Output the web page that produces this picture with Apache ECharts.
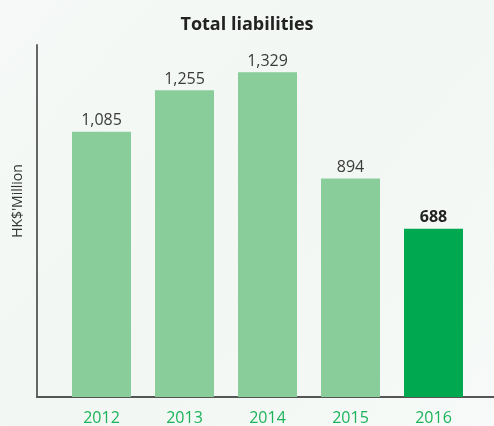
<!DOCTYPE html>
<html>
<head>
<meta charset="utf-8">
<script src="https://cdn.jsdelivr.net/npm/echarts@6/dist/echarts.min.js"></script>
<style>html,body{margin:0;padding:0;}#c{width:494px;height:426px;}</style>
</head>
<body>
<div id="c"></div>
<script>
var categories = ['2012', '2013', '2014', '2015', '2016'];
var values = [1085, 1255, 1329, 894, 688];
var highlightIndex = 4;

var font = '"Open Sans", "Noto Sans", sans-serif';
var chart = echarts.init(document.getElementById('c'), null, {renderer: 'canvas'});

var barData = values.map(function (v, i) {
  var hi = i === highlightIndex;
  return {
    value: v,
    itemStyle: {color: hi ? '#00a84f' : '#89cd9a'},
    label: {fontWeight: hi ? 'bold' : 'normal', color: hi ? '#222' : '#3a3a3a'}
  };
});

chart.setOption({
  backgroundColor: {
    type: 'linear', x: 0, y: 0, x2: 1, y2: 1,
    colorStops: [{offset: 0, color: '#f6f9f7'}, {offset: 0.5, color: '#f2f7f3'}, {offset: 1, color: '#f7faf8'}]
  },
  title: {
    text: 'Total liabilities', left: 'center', top: 11,
    textStyle: {fontFamily: font, fontSize: 18, fontWeight: 'bold', color: '#222'}
  },
  grid: [
    {left: 37, right: 0, top: 45, bottom: 29},
    {left: 60, width: 415, top: 45, bottom: 29}
  ],
  xAxis: [
    {gridIndex: 0, type: 'category', data: categories, axisLine: {show: true, lineStyle: {color: '#555', width: 2}},
     axisTick: {show: false}, axisLabel: {show: false}, splitLine: {show: false}},
    {gridIndex: 1, type: 'category', data: categories, axisLine: {show: false}, axisTick: {show: false},
     axisLabel: {color: '#1db35a', fontFamily: font, fontSize: 16, margin: 13}}
  ],
  yAxis: [
    {gridIndex: 0, type: 'value', min: 0, max: 1440, axisLine: {show: true, lineStyle: {color: '#666', width: 2}},
     axisTick: {show: false}, axisLabel: {show: false}, splitLine: {show: false},
     name: "HK$'Million", nameLocation: 'middle', nameGap: 12, nameRotate: 90,
     nameTextStyle: {fontFamily: font, fontSize: 14, color: '#333', padding: [0, 0, 0, 40]}},
    {gridIndex: 1, type: 'value', min: 0, max: 1440, show: false, splitLine: {show: false}}
  ],
  series: [{
    type: 'bar', xAxisIndex: 1, yAxisIndex: 1, barWidth: 59,
    data: barData,
    label: {show: true, position: 'top', distance: 3, fontFamily: font, fontSize: 16,
      formatter: function (p) { return p.value.toLocaleString('en-US'); }}
  }],
  animation: false
});
</script>
</body>
</html>
